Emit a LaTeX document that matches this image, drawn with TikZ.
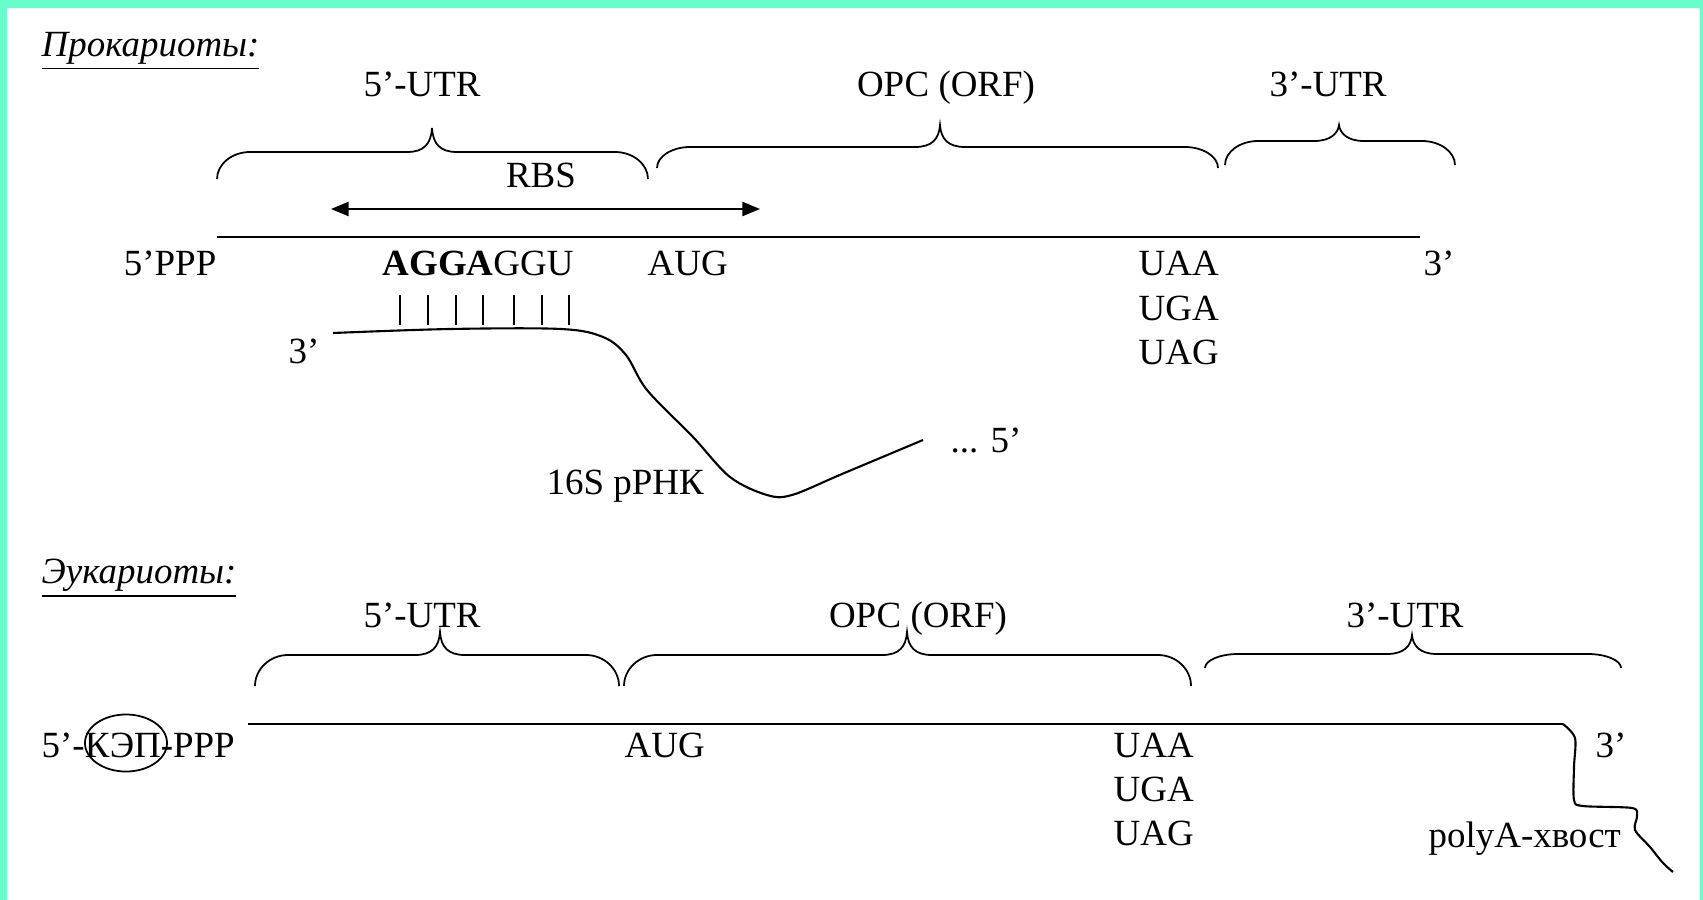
\documentclass[tikz,border=0pt]{standalone}
\usepackage{fontspec}
\setmainfont{Liberation Serif}
\usetikzlibrary{arrows.meta,shapes.geometric}
\definecolor{framecol}{RGB}{102,255,204}
\newcommand{\lblfont}{\fontsize{10.5}{12.6}\selectfont}
% word-style curly brace: left x, right x, tip x, end y, flat y, tip y
\newcommand{\wbrace}[6]{%
  \draw[brc] (#1,#4) .. controls (#1,{#5+0.45*(#4-#5)}) and (#1+15,#5) .. (#1+33,#5)
    -- (#3-25,#5) .. controls (#3-8,#5) and (#3-1,#5-8) .. (#3,#6)
    .. controls (#3+1,#5-8) and (#3+8,#5) .. (#3+25,#5)
    -- (#2-33,#5) .. controls (#2-15,#5) and (#2,{#5+0.45*(#4-#5)}) .. (#2,#4);
}
\tikzset{
  >={Triangle[length=5pt,width=4pt]},
  lab/.style   ={font=\lblfont, inner sep=0pt, anchor=base west},
  labr/.style  ={font=\lblfont, inner sep=0pt, anchor=base east},
  mid/.style   ={font=\lblfont, inner sep=0pt, anchor=base},
  head/.style  ={font=\lblfont\itshape, inner sep=0pt, anchor=base west},
  rna/.style   ={draw, line width=0.6pt},
  brc/.style   ={draw, line width=0.5pt},
  pair/.style  ={draw, line width=0.45pt},
  capring/.style={ellipse, draw, line width=0.5pt, minimum width=0.82cm,
                 minimum height=0.57cm, inner sep=0pt},
}
\begin{document}
\begin{tikzpicture}[x=0.01cm, y=-0.01cm]
\useasboundingbox (0,0) rectangle (1703,900);
\fill[white] (0,0) rectangle (1703,900);
\fill[framecol] (0,0) rectangle (1703,8);
\fill[framecol] (0,0) rectangle (7,900);
\fill[framecol] (1700,0) rectangle (1703,900);

% prokaryotes
\node[head] (hpro) at (41,56) {\underline{Прокариоты:}};
\node[mid] (utr5a) at (422,97)  {5’-UTR};
\node[mid] (orfa)  at (946,97)  {ОРС (ORF)};
\node[mid] (utr3a) at (1328,97) {3’-UTR};
\wbrace{217}{648}{432}{179}{152}{128}
\wbrace{657}{1218}{940}{168}{147}{125}
\wbrace{1225}{1455}{1339}{165}{141}{125}
\node[mid] (rbs) at (541,187) {RBS};
\coordinate (rbsl) at (331,209);
\coordinate (rbsr) at (760,209);
\draw[<->, line width=0.6pt] (rbsl) -- (rbsr);
\coordinate (m5a) at (217,237);
\coordinate (m3a) at (1420,237);
\draw[rna] (m5a) -- (m3a);
\node[labr] (pppa) at (217,275) {5’PPP};
\node[lab] (sd)   at (382,275) {\textbf{AGGA}GGU};
\node[lab] (auga) at (647,275) {AUG};
\node[lab] (uaaa) at (1138,275) {UAA};
\node[lab] (ugaa) at (1138,320) {UGA};
\node[lab] (uaga) at (1138,364) {UAG};
\node[lab] (end3a) at (1423,275) {3’};
\foreach \x in {400,428,456,483,514,542,569}
  \draw[pair] (\x,295) -- (\x,325);
\node[lab] (r3) at (288,363) {3’};
\draw[rna] plot[smooth, tension=0.55] coordinates {(333,333) (450,329) (561,329)
  (603,337) (626,355) (647,390) (693,437) (730,477) (767,495) (792,495) (842,474) (923,440)};
\node[lab] (r5) at (950,452) {... 5’};
\node[lab] (rrna) at (546,494) {16S рРНК};

% eukaryotes
\node[head] (heuk) at (41,583) {\underline{Эукариоты:}};
\node[mid] (utr5b) at (422,627)  {5’-UTR};
\node[mid] (orfb)  at (918,627)  {ОРС (ORF)};
\node[mid] (utr3b) at (1405,627) {3’-UTR};
\wbrace{255}{619}{440}{686}{655}{632}
\wbrace{624}{1191}{907}{686}{655}{632}
\wbrace{1205}{1621}{1412}{668}{654}{635}
\coordinate (m5b) at (248,724);
\coordinate (m3b) at (1563,724);
\draw[rna] (m5b) -- (m3b);
\draw[rna] plot[smooth, tension=0.5] coordinates {(1563,724) (1575,738) (1574,767)
  (1574,800) (1583,806) (1632,808) (1637,816) (1635,830) (1650,847) (1663,863) (1673,872)};
\node[lab] (cap) at (41,757) {5’-КЭП-PPP};
\node[capring] (ring) at (126,743) {};
\node[lab] (augb) at (624,757) {AUG};
\node[lab] (uaab) at (1113,757) {UAA};
\node[lab] (ugab) at (1113,801) {UGA};
\node[lab] (uagb) at (1113,845) {UAG};
\node[lab] (end3b) at (1595,757) {3’};
\node[lab] (polya) at (1428,847) {polyA-хвост};
\end{tikzpicture}
\end{document}
